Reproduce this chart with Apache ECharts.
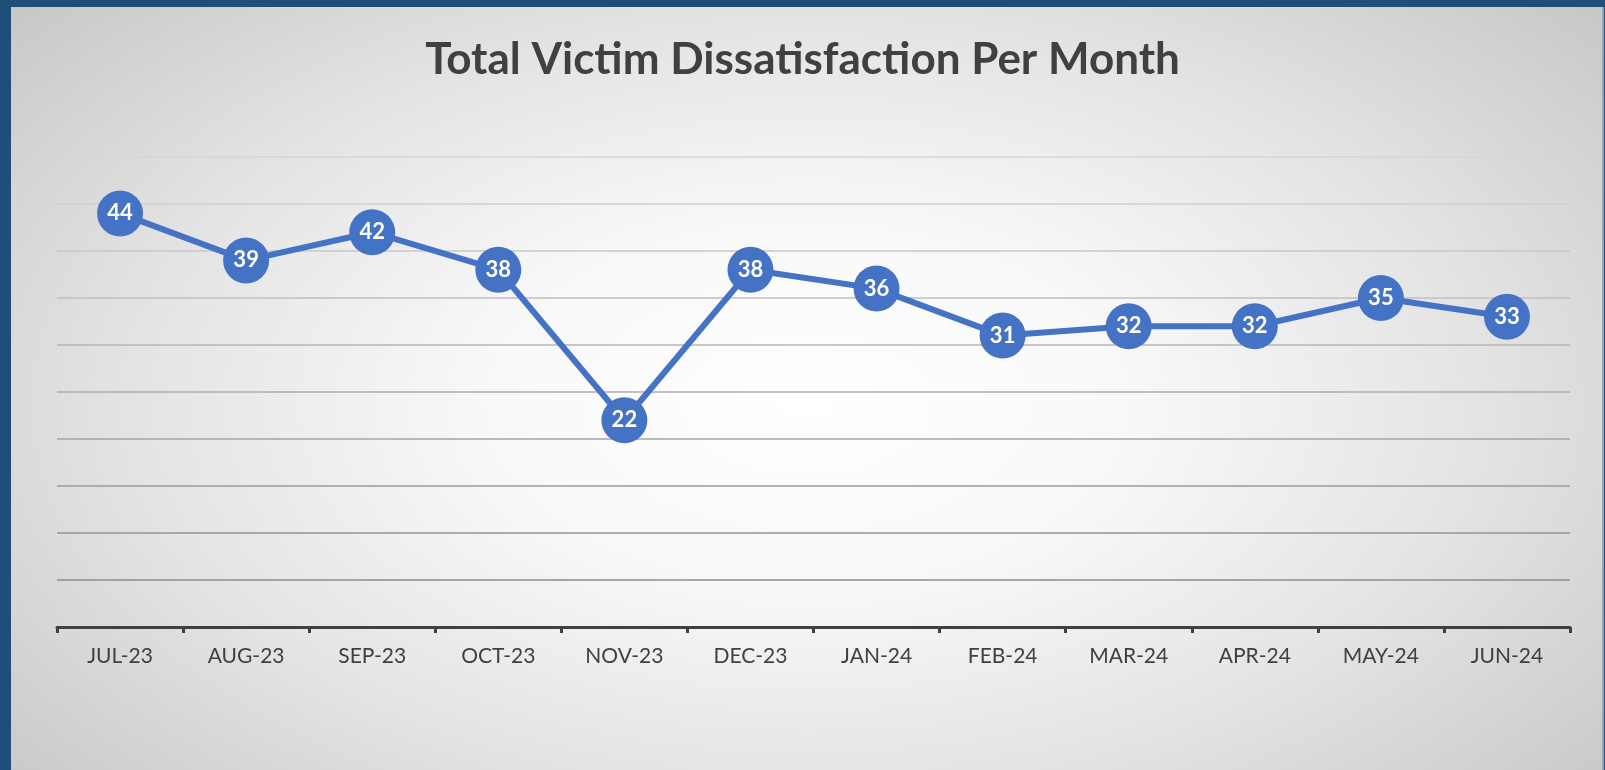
<!DOCTYPE html>
<html>
<head>
<meta charset="utf-8">
<script src="https://cdn.jsdelivr.net/npm/echarts@6/dist/echarts.min.js"></script>
<style>
  html, body { margin: 0; padding: 0; width: 1605px; height: 770px; overflow: hidden; background: #1f4e79; }
  #bg { position: absolute; left: 11px; top: 7px; width: 1591px; height: 763px;
        border-right: 2px solid #9aa5b1;
        background: radial-gradient(ellipse 68% 80% at 50% 52%, #ffffff 0%, #f8f8f8 30%, #e4e4e4 62%, #c6c6c6 100%); }
  #main { position: absolute; left: 0; top: 0; width: 1605px; height: 770px; }
</style>
</head>
<body>
<div id="bg"></div>
<div id="main"></div>
<script>
// months and totals
var months = ['JUL-23', 'AUG-23', 'SEP-23', 'OCT-23', 'NOV-23', 'DEC-23', 'JAN-24', 'FEB-24', 'MAR-24', 'APR-24', 'MAY-24', 'JUN-24'];
var totals = [44, 39, 42, 38, 22, 38, 36, 31, 32, 32, 35, 33];

var myChart = echarts.init(document.getElementById('main'));

var option = {
    backgroundColor: 'transparent',
    animation: false,
    title: {
        text: 'Total Victim Dissatisfaction Per Month',
        left: 'center',
        top: 33,
        textStyle: {
            fontFamily: 'Lato',
            fontWeight: 'bold',
            fontSize: 44,
            color: '#404040'
        }
    },
    grid: {
        left: 57,
        right: 35,
        top: 157,
        bottom: 143
    },
    xAxis: {
        type: 'category',
        data: months,
        boundaryGap: true,
        axisLine: {
            lineStyle: { color: '#404040', width: 3 }
        },
        axisTick: {
            show: true,
            length: 6,
            lineStyle: { color: '#404040', width: 3 }
        },
        axisLabel: {
            margin: 19,
            fontFamily: 'Lato',
            fontSize: 21,
            color: '#404040'
        }
    },
    yAxis: {
        type: 'value',
        min: 0,
        max: 50,
        interval: 5,
        axisLine: { show: false },
        axisTick: { show: false },
        axisLabel: { show: false },
        splitLine: {
            lineStyle: {
                width: 1.5,
                // darker near the axis, fading towards the top
                color: ['#8a8a8a', '#8c8c8c', '#939393', '#9b9b9b', '#a4a4a4', '#adadad', '#b6b6b6', '#bfbfbf', '#c7c7c7', '#cfcfcf', '#d6d6d6']
            }
        }
    },
    series: [
        {
            name: 'Total',
            type: 'line',
            data: totals,
            symbol: 'circle',
            symbolSize: 46,
            lineStyle: { color: '#4472c4', width: 6 },
            itemStyle: { color: '#4472c4' },
            label: {
                show: true,
                position: 'inside',
                fontFamily: 'Lato',
                fontWeight: 'bold',
                fontSize: 22,
                color: '#ffffff'
            }
        }
    ]
};

myChart.setOption(option);
</script>
</body>
</html>
